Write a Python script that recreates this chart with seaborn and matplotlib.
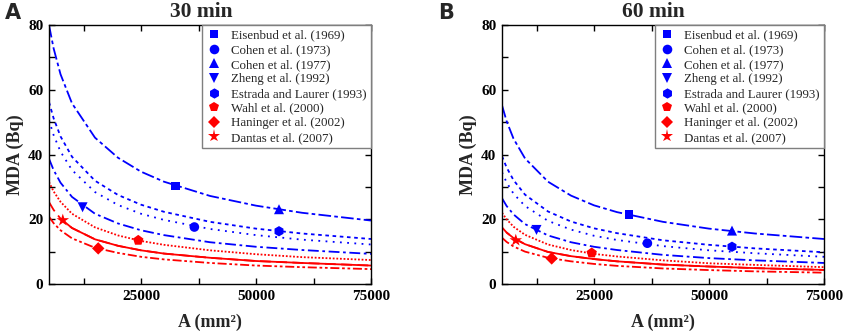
import numpy as np
import pandas as pd
import seaborn as sns
import matplotlib
matplotlib.use("Agg")
import matplotlib.pyplot as plt
from matplotlib.ticker import MultipleLocator, FixedLocator

# ---------------- data ----------------
area = [5000, 6000, 7500, 10000, 15000, 20000, 25000, 30000, 40000, 50000, 60000, 75000]
nan = np.nan

# 30 min panel curves
a_top = [80.0, 72.8, 64.8, 55.8, 45.2, 39.0, 34.7, 31.6, 27.2, 24.2, 22.0, 19.6]
a_dot1 = [56.2, 51.2, 45.6, 39.3, 31.9, 27.5, 24.5, 22.3, 19.2, 17.1, 15.6, 13.9]
a_dot2 = [50.6, 46.0, 40.9, 35.2, 28.4, 24.4, 21.7, 19.8, 17.0, 15.1, 13.7, 12.2]
a_dd = [38.7, 35.2, 31.3, 26.9, 21.7, 18.7, 16.6, 15.1, 12.9, 11.5, 10.5, 9.3]
a_rdot = [31.5, 28.6, 25.4, 21.7, 17.5, 15.0, 13.3, 12.1, 10.4, 9.2, 8.3, 7.4]
a_rdash = [25.3, 22.9, 20.2, 17.3, 13.8, 11.8, 10.4, 9.4, 8.1, 7.1, 6.5, 5.7]
a_rsolid = [nan, nan, 20.2, 17.3, 13.8, 11.8, 10.4, 9.4, 8.1, 7.1, 6.5, 5.7]
a_rdd = [20.8, 18.8, 16.6, 14.1, 11.2, 9.6, 8.4, 7.6, 6.5, 5.7, 5.2, 4.6]

# 60 min panel curves
b_top = [55.2, 50.3, 44.9, 38.8, 31.6, 27.3, 24.3, 22.2, 19.2, 17.1, 15.6, 13.9]
b_dot1 = [39.5, 36.0, 32.1, 27.6, 22.4, 19.3, 17.2, 15.7, 13.5, 12.1, 11.0, 9.8]
b_dot2 = [34.5, 31.4, 27.9, 24.1, 19.5, 16.8, 14.9, 13.6, 11.7, 10.4, 9.5, 8.4]
b_dd = [26.5, 24.1, 21.5, 18.5, 15.0, 12.9, 11.5, 10.5, 9.0, 8.0, 7.3, 6.5]
b_rdot = [22.0, 20.0, 17.7, 15.2, 12.2, 10.5, 9.3, 8.5, 7.3, 6.4, 5.9, 5.2]
b_rdash = [17.5, 15.9, 14.2, 12.3, 9.9, 8.6, 7.7, 7.0, 6.0, 5.4, 4.9, 4.35]
b_rsolid = [nan, 15.9, 14.2, 12.3, 9.9, 8.6, 7.7, 7.0, 6.0, 5.4, 4.9, 4.35]
b_rdd = [14.3, 13.0, 11.6, 10.0, 8.1, 7.0, 6.2, 5.6, 4.8, 4.3, 3.9, 3.5]

studies = ["Eisenbud et al. (1969)", "Cohen et al. (1973)", "Cohen et al. (1977)",
           "Zheng et al. (1992)", "Estrada and Laurer (1993)", "Wahl et al. (2000)",
           "Haninger et al. (2002)", "Dantas et al. (2007)"]
study_area = [32500, 36600, 55000, 12300, 55000, 24400, 15700, 8000]
study_area_b = [32600, 36600, 55000, 12500, 55000, 24500, 15800, 8000]
mda_30 = [30.3, 17.6, 23.1, 23.7, 16.3, 13.5, 11.0, 19.7]
mda_60 = [21.5, 12.6, 16.5, 16.7, 11.5, 9.6, 7.9, 13.5]

panel_titles = ["30 min", "60 min"]
panel_letters = ["A", "B"]
x_ticks = [25000, 50000, 75000]

# ---------------- styles ----------------
BLUE = "#0000FF"
RED = "#FF0000"
curve_names = ["top", "dot1", "dot2", "dd", "rdot", "rdash", "rsolid", "rdd"]
curve_colors = {"top": BLUE, "dot1": BLUE, "dot2": BLUE, "dd": BLUE,
                "rdot": RED, "rdash": RED, "rsolid": RED, "rdd": RED}
curve_dashes = {"top": (7, 1.8, 2, 1.8), "dot1": (2, 2), "dot2": (1, 3),
                "dd": (6, 2, 1.5, 2), "rdot": (1, 1), "rdash": (6, 3),
                "rsolid": "", "rdd": (5, 1.5, 1.5, 1.5, 1.5, 1.5)}
study_colors = dict(zip(studies, [BLUE] * 5 + [RED] * 3))
study_markers = dict(zip(studies, ["s", "o", "^", "v", "h", "p", "D", "*"]))
study_sizes = dict(zip(studies, [40, 48, 52, 52, 55, 62, 40, 90]))

sns.set_theme(style="ticks")
plt.rcParams["font.family"] = ["Liberation Serif", "DejaVu Serif"]
plt.rcParams["axes.linewidth"] = 1.0

fig = plt.figure(figsize=(8.44, 3.36), dpi=100)
axA = fig.add_axes([49 / 844, 1 - 284 / 336, 322 / 844, 259 / 336])
axB = fig.add_axes([502 / 844, 1 - 284 / 336, 322 / 844, 259 / 336])

panels = [
    (axA, [a_top, a_dot1, a_dot2, a_dd, a_rdot, a_rdash, a_rsolid, a_rdd], study_area, mda_30),
    (axB, [b_top, b_dot1, b_dot2, b_dd, b_rdot, b_rdash, b_rsolid, b_rdd], study_area_b, mda_60),
]
title_x = [201, 653]
letter_x = [5, 438]

for i, (ax, curves, sx, sy) in enumerate(panels):
    rows = []
    for name, vals in zip(curve_names, curves):
        for x, v in zip(area, vals):
            rows.append({"A": x, "MDA": v, "curve": name})
    df = pd.DataFrame(rows).dropna()
    sns.lineplot(data=df, x="A", y="MDA", hue="curve", style="curve",
                 hue_order=curve_names, style_order=curve_names,
                 palette=curve_colors, dashes=curve_dashes,
                 estimator=None, sort=False, legend=False, linewidth=1.3, ax=ax)
    pts = pd.DataFrame({"A": sx, "MDA": sy, "study": studies})
    sns.scatterplot(data=pts, x="A", y="MDA", hue="study", style="study",
                    size="study", sizes=study_sizes,
                    hue_order=studies, style_order=studies, size_order=studies,
                    palette=study_colors, markers=study_markers,
                    linewidth=0, ax=ax, zorder=5)
    handles, labels = ax.get_legend_handles_labels()
    leg = ax.legend(handles, labels, loc="upper right", borderaxespad=0,
                    frameon=True, fancybox=False, framealpha=1,
                    edgecolor="#7f7f7f", fontsize=9.3, handlelength=1.2,
                    handletextpad=0.7, labelspacing=0.2, borderpad=0.35)
    leg.get_frame().set_linewidth(1.0)

    ax.set_xlim(5000, 75000)
    ax.set_ylim(0, 80)
    ax.xaxis.set_major_locator(FixedLocator(x_ticks))
    ax.xaxis.set_minor_locator(FixedLocator([12500, 37500, 62500]))
    ax.yaxis.set_major_locator(MultipleLocator(20))
    ax.yaxis.set_minor_locator(MultipleLocator(10))
    ax.tick_params(which="both", direction="in", top=True, right=True,
                   length=4, width=1, colors="black")
    ax.tick_params(which="major", labelsize=11, pad=4)
    for lab in ax.get_xticklabels() + ax.get_yticklabels():
        lab.set_fontweight("bold")
    for sp in ax.spines.values():
        sp.set_visible(True)
        sp.set_color("black")
    ax.set_xlabel("A (mm²)", fontsize=13, fontweight="bold", labelpad=8)
    ax.set_ylabel("MDA (Bq)", fontsize=13, fontweight="bold", labelpad=3)
    fig.text(title_x[i] / 844, 1 - 17 / 336, panel_titles[i], ha="center",
             va="baseline", fontsize=15.5, fontweight="bold")
    fig.text(letter_x[i] / 844, 1 - 3 / 336, panel_letters[i], ha="left", va="top",
             fontsize=15, fontweight="bold", family="DejaVu Sans")

fig.savefig("out.png", dpi=100)
